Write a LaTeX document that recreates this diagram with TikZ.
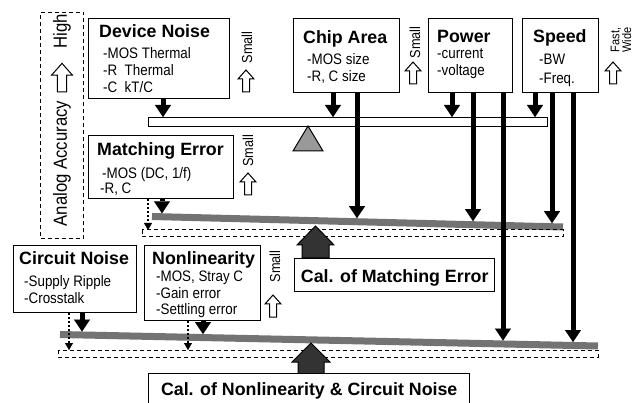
\documentclass[tikz,border=0pt]{standalone}
\usepackage{fontspec}
\setmainfont{Liberation Sans}
\newfontfamily\narrowfont{Liberation Sans}[FakeStretch=0.88]
\usetikzlibrary{arrows.meta}

\begin{document}
\begin{tikzpicture}[x=1pt,y=-1pt]
\tikzset{box/.style={draw,line width=1.4pt,fill=white,inner sep=0pt,anchor=north west},
  ttl/.style={font=\bfseries\fontsize{17.8}{18}\selectfont,inner sep=0pt,anchor=base west},
  itm/.style={font=\narrowfont\fontsize{15.2}{17}\selectfont,inner sep=0pt,anchor=base west,align=left},
  sml/.style={font=\narrowfont\fontsize{14.5}{12}\selectfont,rotate=90,inner sep=0pt},
  bigarr/.style={line width=5pt,-{Triangle[width=16pt,length=12pt,line width=0.1pt]}},
  dotarr/.style={line width=2.5pt,dash pattern=on 2pt off 2pt,-{Triangle[width=8pt,length=7pt,line width=0.1pt]}},
  beam/.style={line width=7pt,draw=black!55},
  dbox/.style={draw,line width=1pt,dash pattern=on 4pt off 3pt},
  house/.style={draw,line width=1pt,fill=black!80,line join=miter},
  hollow/.pic={\draw[line width=1pt,fill=white] (-3.5,0)--(-3.5,-13)--(-8,-13)--(0,-22)--(8,-13)--(3.5,-13)--(3.5,0)--cycle;}}
\clip (0,0) rectangle (637,403);

% accuracy scale
\node[dbox,minimum width=43,minimum height=226,inner sep=0pt,anchor=north west] (aa) at (40,12) {};
\node[rotate=90,font=\narrowfont\fontsize{19}{17}\selectfont,inner sep=0pt] (hi) at (62,31) {High};
\pic[scale=1.3] at (62,92) {hollow};
\node[rotate=90,font=\narrowfont\fontsize{19}{17}\selectfont,inner sep=0pt] (acc) at (62,163.5) {Analog Accuracy};

% boxes (item nodes sit on their last baseline)
\node[box,minimum width=141,minimum height=80] (dn) at (88,18) {};
\node[ttl] (dnt) at (99,38) {Device Noise};
\node[itm] (dni) at (103,93) {-MOS Thermal\\-R\ \ Thermal\\-C\ \ kT/C};
\node[box,minimum width=106,minimum height=74] (ca) at (293,18) {};
\node[ttl] (cat) at (303,44) {Chip Area};
\node[itm] (cai) at (307,82) {-MOS size\\-R, C size};
\node[box,minimum width=84,minimum height=74] (pw) at (428,18) {};
\node[ttl] (pwt) at (437,43) {Power};
\node[itm] (pwi) at (437,76) {-current\\-voltage};
\node[box,minimum width=76,minimum height=74] (sp) at (522,18) {};
\node[ttl] (spt) at (533,43) {Speed};
\node[itm,font=\narrowfont\fontsize{15.2}{19}\selectfont] (spi) at (539,84) {-BW\\-Freq.};
\node[box,minimum width=145,minimum height=63] (me) at (88,135) {};
\node[ttl] (met) at (97,156) {Matching Error};
\node[itm,font=\narrowfont\fontsize{15.2}{14.5}\selectfont] (mei) at (102,193.5) {-MOS (DC, 1/f)\\\hspace*{-2pt}-R, C};
\node[box,minimum width=123,minimum height=67] (cn) at (13,245) {};
\node[ttl] (cnt) at (19,265) {Circuit Noise};
\node[itm] (cni) at (24,303) {-Supply Ripple\\-Crosstalk};
\node[box,minimum width=116,minimum height=75] (nl) at (144,245) {};
\node[ttl] (nlt) at (152,265) {Nonlinearity};
\node[itm,font=\narrowfont\fontsize{15.2}{16.5}\selectfont] (nli) at (156,315) {-MOS, Stray C\\-Gain error\\-Settling error};

% small / fast labels
\node[sml] (s1) at (247,47.5) {Small};
\pic at (246,92) {hollow};
\node[sml] (s2) at (415,42.5) {Small};
\pic at (413,84) {hollow};
\node[sml,font=\narrowfont\fontsize{12.5}{8.5}\selectfont,align=center] (fw) at (621,40) {Fast,\\Wide};
\pic at (613,84) {hollow};
\node[sml] (s4) at (248,151) {Small};
\pic at (248,195) {hollow};
\node[sml] (s5) at (275,266.5) {Small};
\pic at (273,317) {hollow};

% beams
\node[draw,line width=1pt,fill=white,minimum width=399,minimum height=9,inner sep=0pt,anchor=north west] (tb) at (148,117) {};
\draw[line width=1pt,fill=black!40] (293,151)--(308,126)--(323,151)--cycle;
\draw[beam] (152,216.5) -- (563,227);
\draw[dbox] (142,230) rectangle (563,237);
\draw[house] (302,258)--(302,245)--(297,245)--(315.5,226)--(334,245)--(329,245)--(329,258)--cycle;
\draw[beam] (60,334.5) -- (598,346);
\draw[dbox] (58,350) rectangle (598,357);
\draw[house] (298,374)--(298,362)--(292,362)--(311,343)--(330,362)--(324,362)--(324,374)--cycle;

\node[box,minimum width=200,minimum height=33,font=\bfseries\fontsize{17.8}{18}\selectfont,text height=16pt,text depth=1pt] (cme) at (294,258) {Cal. of Matching Error};
\node[box,minimum width=321,font=\bfseries\fontsize{17.8}{18}\selectfont,text height=13pt,text depth=4pt,inner ysep=9pt] (cnc) at (148,373) {Cal. of Nonlinearity \& Circuit Noise};

% arrow ends
\coordinate (t1) at (163,117);
\coordinate (t2) at (333,117);
\coordinate (t3) at (452,117);
\coordinate (t4) at (535,117);
\coordinate (m1) at (162,213.3);
\coordinate (m2) at (357,218.2);
\coordinate (m3) at (473,221.2);
\coordinate (m4) at (552,223.2);
\coordinate (md) at (148,230);
\coordinate (b1) at (82,331.5);
\coordinate (b2) at (203,334.1);
\coordinate (b3) at (503,340.5);
\coordinate (b4) at (573,342);
\coordinate (bd1) at (69,350);
\coordinate (bd2) at (188,350);

\draw[bigarr] (dn.south -| t1) -- (t1);
\draw[bigarr] (ca.south -| t2) -- (t2);
\draw[bigarr] (pw.south -| t3) -- (t3);
\draw[bigarr] (sp.south -| t4) -- (t4);
\draw[bigarr] (me.south -| m1) -- (m1);
\draw[bigarr] (ca.south -| m2) -- (m2);
\draw[bigarr] (pw.south -| m3) -- (m3);
\draw[bigarr] (sp.south -| m4) -- (m4);
\draw[dotarr] (me.south -| md) -- (md);
\draw[bigarr] (cn.south -| b1) -- (b1);
\draw[bigarr] (nl.south -| b2) -- (b2);
\draw[bigarr] (pw.south -| b3) -- (b3);
\draw[bigarr] (sp.south -| b4) -- (b4);
\draw[dotarr] (cn.south -| bd1) -- (bd1);
\draw[dotarr] (nl.south -| bd2) -- (bd2);
\end{tikzpicture}
\end{document}
